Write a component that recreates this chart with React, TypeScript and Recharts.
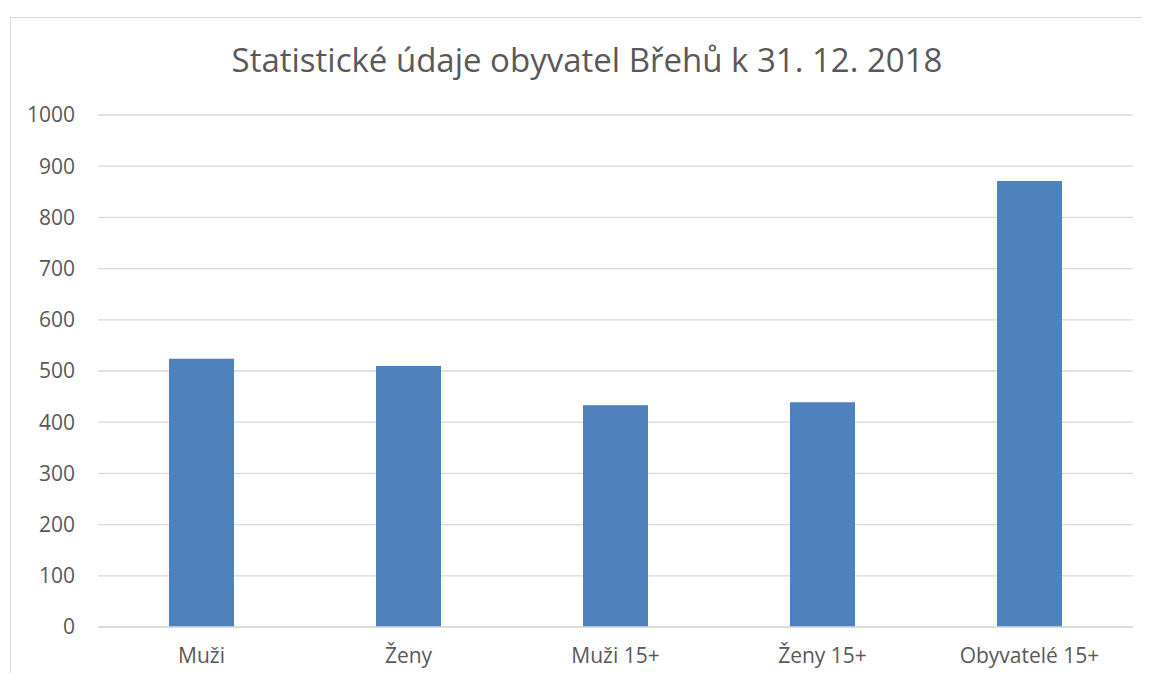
import React from 'react';
import { BarChart, Bar, XAxis, YAxis, CartesianGrid } from 'recharts';

const categories = ['Muži', 'Ženy', 'Muži 15+', 'Ženy 15+', 'Obyvatelé 15+'];
const counts = [524, 510, 433, 439, 871];
const yTicks = [0, 100, 200, 300, 400, 500, 600, 700, 800, 900, 1000];

const chartTitle = 'Statistické údaje obyvatel Břehů k 31. 12. 2018';

const data = categories.map((name, i) => ({ name, value: counts[i] }));

const FONT = '"Open Sans", "Noto Sans", sans-serif';
const TEXT_COLOR = '#595959';

export default function App() {
    return (
        <div
            style={{
                position: 'relative',
                width: 1149,
                height: 681,
                margin: -8,
                overflow: 'hidden',
                background: '#fff',
                fontFamily: FONT,
            }}
        >
            {/* chart frame, cut off on the right and bottom like the original */}
            <div
                style={{
                    position: 'absolute',
                    left: 10,
                    top: 17,
                    width: 1200,
                    height: 700,
                    border: '1px solid #d9d9d9',
                }}
            />
            <div
                style={{
                    position: 'absolute',
                    left: 0,
                    top: 37,
                    width: 1174,
                    textAlign: 'center',
                    fontSize: 33,
                    color: TEXT_COLOR,
                    lineHeight: '46px',
                }}
            >
                {chartTitle}
            </div>
            <div style={{ position: 'absolute', left: 0, top: 0 }}>
                <BarChart
                    width={1149}
                    height={681}
                    data={data}
                    margin={{ top: 115, right: 16, bottom: 14, left: 0 }}
                >
                    <CartesianGrid vertical={false} stroke="#d9d9d9" strokeWidth={1.3} />
                    <XAxis
                        dataKey="name"
                        height={40}
                        axisLine={{ stroke: '#d9d9d9', strokeWidth: 1.3 }}
                        tickLine={false}
                        tickMargin={15}
                        tick={{ fill: TEXT_COLOR, fontSize: 21, fontFamily: FONT }}
                        interval={0}
                    />
                    <YAxis
                        width={98}
                        domain={[0, 1000]}
                        ticks={yTicks}
                        axisLine={false}
                        tickLine={false}
                        tickMargin={17}
                        tick={{ fill: TEXT_COLOR, fontSize: 21, fontFamily: FONT }}
                    />
                    <Bar dataKey="value" fill="#4f81bd" barSize={65} isAnimationActive={false} />
                </BarChart>
            </div>
        </div>
    );
}
